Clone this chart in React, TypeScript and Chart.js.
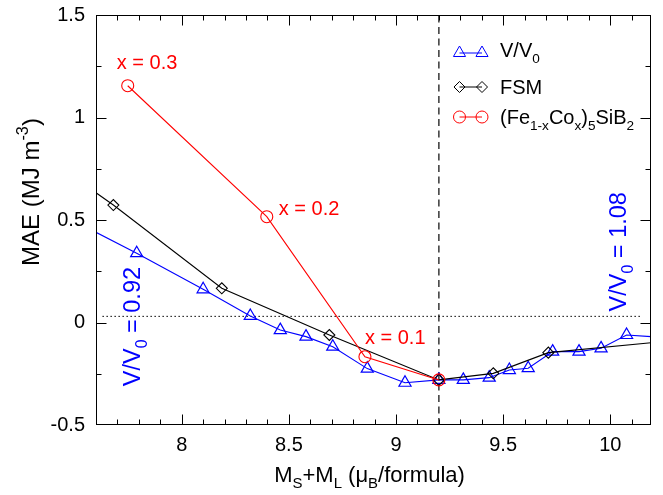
import React, { useEffect, useRef } from 'react';
import { Chart, registerables } from 'chart.js';

Chart.register(...registerables);

const FONT = '"Liberation Sans", Arial, Helvetica, sans-serif';

// Axis ranges
const X_MIN = 7.6;
const X_MAX = 10.19;
const Y_MIN = -0.5;
const Y_MAX = 1.5;

// Tick labels
const xTickLabels = [8, 8.5, 9, 9.5, 10];
const yTickLabels = [-0.5, 0, 0.5, 1, 1.5];

// V/V0 series (blue triangles); first/last points sit on the axis edges
const vvX = [7.6, 7.79, 8.10, 8.32, 8.46, 8.58, 8.705, 8.866, 9.042, 9.2, 9.314, 9.435, 9.529, 9.617, 9.731, 9.854, 9.957, 10.076, 10.19];
const vvY = [0.44, 0.338, 0.162, 0.032, -0.037, -0.069, -0.118, -0.225, -0.294, -0.28, -0.28, -0.269, -0.232, -0.223, -0.142, -0.142, -0.126, -0.061, -0.069];

// FSM series (black diamonds)
const fsmX = [7.6, 7.681, 8.187, 8.689, 9.2, 9.454, 9.711, 10.19];
const fsmY = [0.633, 0.573, 0.167, -0.061, -0.28, -0.248, -0.147, -0.099];

// (Fe1-xCox)5SiB2 series (red circles)
const coX = [7.748, 8.397, 8.855, 9.2];
const coY = [1.155, 0.516, -0.167, -0.28];
const coLabels = ['x = 0.3', 'x = 0.2', 'x = 0.1'];

// Reference lines
const refY = 0.03;
const refXRange = [7.63, 10.15];
const fermiX = 9.2;

const pts = (xs: number[], ys: number[]) => xs.map((x, i) => ({ x, y: ys[i] }));

type Seg = { t: string; s?: 'sub' | 'sup' };

function drawRich(
  ctx: CanvasRenderingContext2D,
  segs: Seg[],
  x: number,
  y: number,
  size: number,
  color: string,
  align: 'left' | 'center'
) {
  const small = size * 0.68;
  let w = 0;
  for (const s of segs) {
    ctx.font = `${s.s ? small : size}px ${FONT}`;
    w += ctx.measureText(s.t).width;
  }
  let cx = align === 'center' ? x - w / 2 : x;
  ctx.fillStyle = color;
  ctx.textBaseline = 'alphabetic';
  ctx.textAlign = 'left';
  for (const s of segs) {
    ctx.font = `${s.s ? small : size}px ${FONT}`;
    const dy = s.s === 'sub' ? size * 0.3 : s.s === 'sup' ? -size * 0.45 : 0;
    ctx.fillText(s.t, cx, y + dy);
    cx += ctx.measureText(s.t).width;
  }
}

function marker(ctx: CanvasRenderingContext2D, kind: string, x: number, y: number, color: string) {
  ctx.beginPath();
  ctx.strokeStyle = color;
  ctx.lineWidth = 1;
  if (kind === 'triangle') {
    const r = 7;
    for (let k = 0; k < 3; k++) {
      const a = (k * 2 * Math.PI) / 3;
      const px = x + Math.sin(a) * r;
      const py = y - Math.cos(a) * r;
      if (k === 0) ctx.moveTo(px, py);
      else ctx.lineTo(px, py);
    }
    ctx.closePath();
  } else if (kind === 'diamond') {
    const r = 5.5;
    ctx.moveTo(x, y - r);
    ctx.lineTo(x + r, y);
    ctx.lineTo(x, y + r);
    ctx.lineTo(x - r, y);
    ctx.closePath();
  } else {
    ctx.arc(x, y, 6, 0, Math.PI * 2);
  }
  ctx.stroke();
}

const overlay = {
  id: 'overlay',
  afterDatasetsDraw(chart: any) {
    const { ctx, chartArea: a, scales } = chart;
    const xs = scales.x;
    const ys = scales.y;
    ctx.save();

    // Frame
    ctx.strokeStyle = '#000';
    ctx.lineWidth = 1;
    ctx.setLineDash([]);
    const L = Math.round(a.left) + 0.5;
    const T = Math.round(a.top) + 0.5;
    const R = Math.round(a.right) - 0.5;
    const B = Math.round(a.bottom) - 0.5;
    ctx.strokeRect(L, T, R - L, B - T);

    const seg = (x1: number, y1: number, x2: number, y2: number) => {
      ctx.beginPath();
      ctx.moveTo(x1, y1);
      ctx.lineTo(x2, y2);
      ctx.stroke();
    };

    // X ticks (minor every 0.1, major every 0.5)
    for (let i = Math.ceil(X_MIN * 10 + 1e-6); i <= Math.floor(X_MAX * 10 - 1e-6); i++) {
      const v = i / 10;
      const len = i % 5 === 0 ? 10 : 5;
      const px = Math.round(xs.getPixelForValue(v)) + 0.5;
      seg(px, B, px, B - len);
      seg(px, T, px, T + len);
    }
    // Y ticks (minor every 0.25, major every 0.5)
    for (let i = Math.round(Y_MIN * 4); i <= Math.round(Y_MAX * 4); i++) {
      const v = i / 4;
      if (v <= Y_MIN || v >= Y_MAX) continue;
      const len = i % 2 === 0 ? 10 : 5;
      const py = Math.round(ys.getPixelForValue(v)) + 0.5;
      seg(L, py, L + len, py);
      seg(R, py, R - len, py);
    }

    // Axis titles
    drawRich(
      ctx,
      [{ t: 'M' }, { t: 'S', s: 'sub' }, { t: '+M' }, { t: 'L', s: 'sub' }, { t: ' (\u03bc' }, { t: 'B', s: 'sub' }, { t: '/formula)' }],
      (a.left + a.right) / 2 - 4,
      481.5,
      22,
      '#000',
      'center'
    );
    ctx.save();
    ctx.translate(39, 192);
    ctx.rotate(-Math.PI / 2);
    drawRich(ctx, [{ t: 'MAE (MJ m' }, { t: '-3', s: 'sup' }, { t: ')' }], 0, 0, 24, '#000', 'center');
    ctx.restore();

    // Red point labels
    const offs = [
      [-11, -17],
      [12, -1.5],
      [0, -13],
    ];
    coLabels.forEach((lab, i) => {
      const px = xs.getPixelForValue(coX[i]);
      const py = ys.getPixelForValue(coY[i]);
      drawRich(ctx, [{ t: lab }], px + offs[i][0], py + offs[i][1], 20, '#ff0000', 'left');
    });

    // Rotated V/V0 labels
    const rot = (px: number, py: number, text: string) => {
      ctx.save();
      ctx.translate(px, py);
      ctx.rotate(-Math.PI / 2);
      drawRich(ctx, [{ t: 'V/V' }, { t: '0', s: 'sub' }, { t: text }], 0, 0, 23.5, '#0000ff', 'center');
      ctx.restore();
    };
    rot(xs.getPixelForValue(7.803), ys.getPixelForValue(-0.02), ' = 0.92');
    rot(xs.getPixelForValue(10.074), ys.getPixelForValue(0.345), ' = 1.08');

    // Legend
    const lx1 = 459.5;
    const lx2 = 482;
    const tx = 500;
    const entries = [
      { kind: 'triangle', color: '#0000ff', my: 53, by: 57, segs: [{ t: 'V/V' }, { t: '0', s: 'sub' }] as Seg[] },
      { kind: 'diamond', color: '#000000', my: 87, by: 94, segs: [{ t: 'FSM' }] as Seg[] },
      {
        kind: 'circle',
        color: '#ff0000',
        my: 117,
        by: 124,
        segs: [{ t: '(Fe' }, { t: '1-x', s: 'sub' }, { t: 'Co' }, { t: 'x', s: 'sub' }, { t: ')' }, { t: '5', s: 'sub' }, { t: 'SiB' }, { t: '2', s: 'sub' }] as Seg[],
      },
    ];
    for (const e of entries) {
      ctx.strokeStyle = e.color;
      ctx.lineWidth = 1;
      seg(lx1, e.my, lx2, e.my);
      marker(ctx, e.kind, lx1, e.my, e.color);
      marker(ctx, e.kind, lx2, e.my, e.color);
      drawRich(ctx, e.segs, tx, e.by, 20, '#000', 'left');
    }

    ctx.restore();
  },
};

const edgeRadius = (r: number) => (c: any) => {
  const p = c.raw;
  if (!p) return r;
  return p.x <= X_MIN + 1e-9 || p.x >= X_MAX - 1e-9 ? 0 : r;
};

export default function App() {
  const ref = useRef<HTMLCanvasElement | null>(null);

  useEffect(() => {
    if (!ref.current) return;
    const chart = new Chart(ref.current, {
      type: 'scatter',
      data: {
        datasets: [
          {
            label: '(Fe1-xCox)5SiB2',
            data: pts(coX, coY),
            showLine: true,
            borderColor: '#ff0000',
            backgroundColor: 'rgba(0,0,0,0)',
            borderWidth: 1.1,
            pointStyle: 'circle',
            pointRadius: 6,
            pointBorderWidth: 1.1,
            pointBorderColor: '#ff0000',
            pointBackgroundColor: 'rgba(0,0,0,0)',
            order: 0,
          },
          {
            label: 'FSM',
            data: pts(fsmX, fsmY),
            showLine: true,
            borderColor: '#000000',
            backgroundColor: 'rgba(0,0,0,0)',
            borderWidth: 1.1,
            pointStyle: 'rectRot',
            pointRadius: edgeRadius(5.5),
            pointBorderWidth: 1.1,
            pointBorderColor: '#000000',
            pointBackgroundColor: 'rgba(0,0,0,0)',
            order: 1,
          },
          {
            label: 'V/V0',
            data: pts(vvX, vvY),
            showLine: true,
            borderColor: '#0000ff',
            backgroundColor: 'rgba(0,0,0,0)',
            borderWidth: 1.1,
            pointStyle: 'triangle',
            pointRadius: edgeRadius(7),
            pointBorderWidth: 1.2,
            pointBorderColor: '#0000ff',
            pointBackgroundColor: 'rgba(0,0,0,0)',
            order: 2,
          },
          {
            label: 'ref',
            data: [
              { x: refXRange[0], y: refY },
              { x: refXRange[1], y: refY },
            ],
            showLine: true,
            borderColor: '#000000',
            borderWidth: 1,
            borderDash: [1.5, 2.5],
            pointRadius: 0,
            order: 3,
          },
          {
            label: 'fermi',
            data: [
              { x: fermiX, y: Y_MIN },
              { x: fermiX, y: Y_MAX },
            ],
            showLine: true,
            borderColor: '#444444',
            borderWidth: 1.6,
            borderDash: [7, 4.5],
            pointRadius: 0,
            order: 4,
          },
        ],
      },
      options: {
        responsive: false,
        animation: false,
        events: [],
        layout: { padding: { top: 15, right: 12, left: 0, bottom: 0 } },
        plugins: {
          legend: { display: false },
          tooltip: { enabled: false },
          title: { display: false },
        },
        scales: {
          x: {
            type: 'linear',
            min: X_MIN,
            max: X_MAX,
            grid: { display: false, drawTicks: false },
            border: { display: false },
            afterBuildTicks: (s: any) => {
              s.ticks = xTickLabels.map((v) => ({ value: v }));
            },
            afterFit: (s: any) => {
              s.height = 70;
              s.paddingLeft = 0;
              s.paddingRight = 0;
            },
            ticks: {
              padding: 8,
              color: '#000',
              font: { family: FONT, size: 20 },
              maxRotation: 0,
              autoSkip: false,
              callback: (v: any) => String(v),
            },
          },
          y: {
            type: 'linear',
            min: Y_MIN,
            max: Y_MAX,
            grid: { display: false, drawTicks: false },
            border: { display: false },
            afterBuildTicks: (s: any) => {
              s.ticks = yTickLabels.map((v) => ({ value: v }));
            },
            afterFit: (s: any) => {
              s.width = 96;
              s.paddingTop = 0;
              s.paddingBottom = 0;
            },
            ticks: {
              padding: 11,
              color: '#000',
              font: { family: FONT, size: 20 },
              autoSkip: false,
              callback: (v: any) => String(v),
            },
          },
        },
      },
      plugins: [overlay],
    });
    return () => chart.destroy();
  }, []);

  return (
    <div style={{ position: 'absolute', left: 0, top: 0, width: 663, height: 495, background: '#fff' }}>
      <canvas ref={ref} width={663} height={495} style={{ display: 'block' }} />
    </div>
  );
}
